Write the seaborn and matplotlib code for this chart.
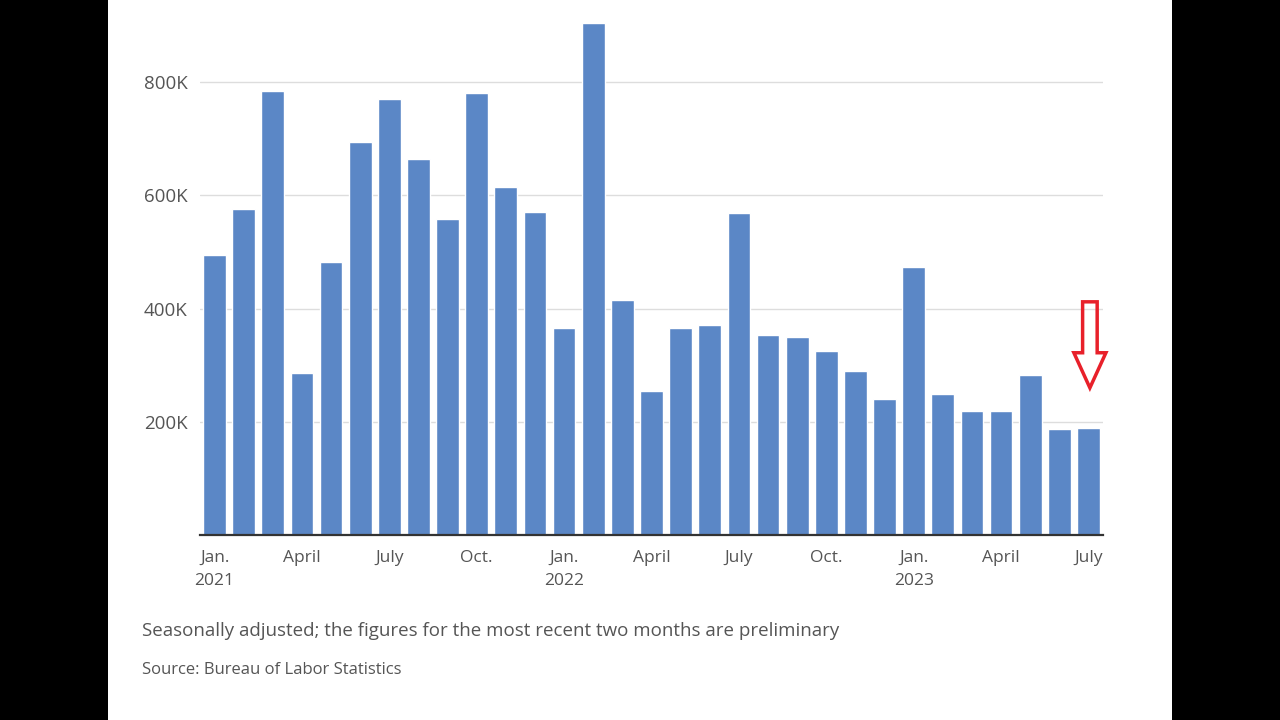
import pandas as pd
import numpy as np
import matplotlib.pyplot as plt
import seaborn as sns
from matplotlib.patches import Rectangle, FancyArrow

# monthly job gains, Jan 2021 - July 2023 (thousands)
months = pd.date_range("2021-01-01", "2023-07-01", freq="MS").strftime("%Y-%m").tolist()
jobs = [495, 576, 784, 286, 482, 694, 770, 664, 558, 781, 615, 571,
        366, 905, 415, 254, 366, 371, 569, 353, 350, 325, 290, 240,
        473, 249, 219, 219, 283, 187, 189]
tick_pos = [0, 3, 6, 9, 12, 15, 18, 21, 24, 27, 30]
tick_labels = ["Jan.\n2021", "April", "July", "Oct.", "Jan.\n2022", "April", "July",
               "Oct.", "Jan.\n2023", "April", "July"]
y_ticks = [200, 400, 600, 800]
y_labels = ["200K", "400K", "600K", "800K"]

df = pd.DataFrame({"month": months, "jobs": jobs})

sns.set_style("white")
plt.rcParams["font.family"] = ["Open Sans", "DejaVu Sans"]

fig = plt.figure(figsize=(12.8, 7.2), dpi=100)
fig.patch.set_facecolor("black")
fig.patches.append(Rectangle((108/1280, 0), (1172-108)/1280, 1, transform=fig.transFigure,
                             facecolor="white", edgecolor="none", zorder=-5))

ax = fig.add_axes([200/1280, 1-535/720, (1103-200)/1280, 520.7/720])
ax.set_facecolor("none")
sns.barplot(data=df, x="month", y="jobs", color="#5b87c6", width=0.78,
            saturation=1, ax=ax, zorder=3)

ax.set_xlim(-0.5, 30.5)
ax.set_ylim(0, 920)
ax.set_yticks(y_ticks)
ax.set_yticklabels(y_labels)
ax.set_xticks(tick_pos)
ax.set_xticklabels(tick_labels, linespacing=1.55)
ax.tick_params(axis="both", length=0, labelsize=12.5, labelcolor="#555555")
ax.tick_params(axis="y", labelsize=13.5, pad=9)
ax.tick_params(axis="x", pad=11)
ax.set_xlabel("")
ax.set_ylabel("")
ax.grid(axis="y", color="#dddddd", linewidth=1, zorder=0)
for s in ["top", "right", "left"]:
    ax.spines[s].set_visible(False)
ax.spines["bottom"].set_color("#333333")
ax.spines["bottom"].set_linewidth(1.6)
ax.spines["bottom"].set_zorder(4)

# red hollow arrow over the latest months
ax.add_patch(FancyArrow(30.05, 412, 0, -152, width=0.5, head_width=1.1,
                        head_length=62, length_includes_head=True, fill=False,
                        edgecolor="#e8202a", linewidth=2.5, zorder=5, clip_on=False))

fig.text(142/1280, 1-631/720, "Seasonally adjusted; the figures for the most recent two months are preliminary",
         fontsize=13.5, color="#555555", va="center")
fig.text(142/1280, 1-670/720, "Source: Bureau of Labor Statistics",
         fontsize=12, color="#555555", va="center")

fig.savefig("out.png", dpi=100, facecolor=fig.get_facecolor())
